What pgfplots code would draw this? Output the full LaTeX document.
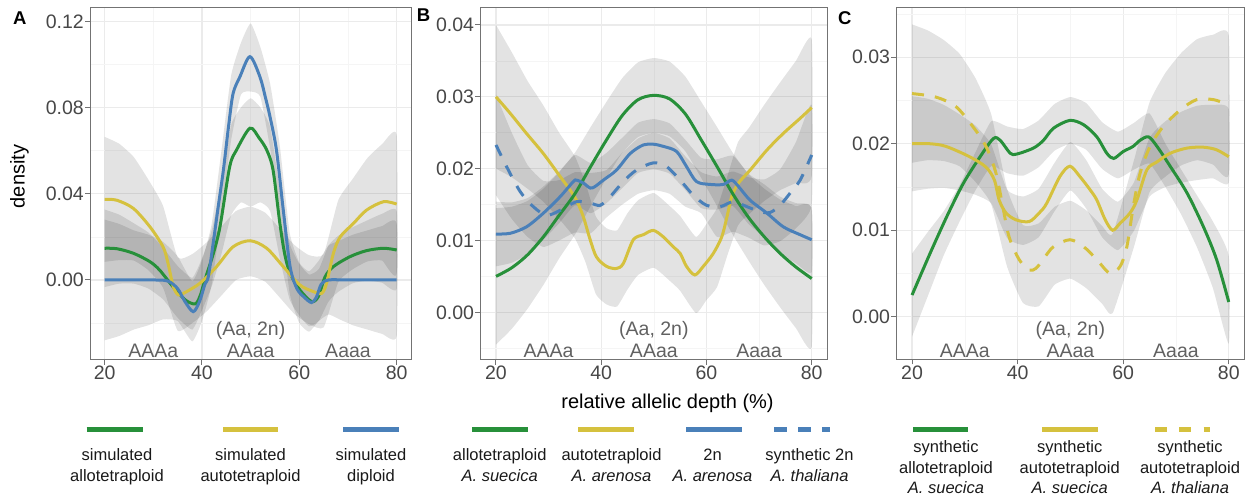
\documentclass[border=0pt]{standalone}
\usepackage{pgfplots}
\pgfplotsset{compat=1.18}
\usepackage{fontspec}
\setmainfont{Liberation Sans}

\definecolor{cgreen}{HTML}{27903A}
\definecolor{cyellow}{HTML}{D5C13E}
\definecolor{cblue}{HTML}{4A80B9}

\newcommand\tkf{\fontsize{19.5}{23}\selectfont}
\newcommand\lgd{\fontsize{16.5}{20}\selectfont}

\pgfplotsset{
  panel/.style={
    scale only axis, height=352.2pt,
    xmin=17, xmax=83,
    xtick={20,40,60,80}, minor xtick={30,50,70},
    xmajorgrids, ymajorgrids, xminorgrids, yminorgrids,
    major grid style={color=black!8, line width=1.1pt},
    minor grid style={color=black!4, line width=0.6pt},
    axis line style={draw=black!55, line width=1pt},
    tick align=outside, xtick pos=bottom, ytick pos=left,
    major tick length=5pt, minor tick length=0pt,
    tick style={draw=black!55, line width=1pt},
    tick label style={font=\tkf, text=black!72, inner sep=1pt},
    /pgf/number format/assume math mode=true,
    scaled y ticks=false,
    yticklabel style={/pgf/number format/.cd, fixed, fixed zerofill, precision=2},
  },
  % confidence band: upper bound left to right, then lower bound right to left
  rib/.style={fill=black, fill opacity=0.11, draw=none, smooth, tension=0.3},
  crv/.style={line width=3pt, smooth, tension=0.5},
}
\tikzset{
  anno/.style={font=\tkf, text=black!62, anchor=base, inner sep=0pt},
  lgt/.style={anchor=base, inner sep=0pt, font=\lgd, text=black!90},
}

% #1: baseline of genotype labels, #2: baseline of (Aa, 2n)
\newcommand\regions[2]{%
  \node[anno] at (axis cs:30,#1) {AAAa};
  \node[anno] at (axis cs:50,#1) {AAaa};
  \node[anno] at (axis cs:70,#1) {Aaaa};
  \node[anno] at (axis cs:50,#2) {(Aa, 2n)};
}

\begin{document}
\begin{tikzpicture}
\useasboundingbox (0pt,0pt) rectangle (1251pt,496pt);

% ---- A ----
\begin{axis}[panel, at={(90pt,136.5pt)}, anchor=south west, width=321.3pt,
  ymin=-0.0369, ymax=0.1265,
  ytick={0,0.04,0.08,0.12}, minor ytick={-0.02,0.02,0.06,0.10}]
\addplot[rib] coordinates {(20,.0664)(23,.0632)(26,.0570)(29,.0465)(32,.0344)(35,.0105)(38,.0120)(41,.0175)(44,.0248)(47,.0320)(50,.0340)(53,.0312)(56,.0238)(59,.0162)(62,.0115)(65,.0120)(68,.0370)(71,.0470)(74,.0566)(77,.0630)(80,.0672)
 (80,.0032)(77,.0090)(74,.0086)(71,.0050)(68,-.0010)(65,-.0220)(62,-.0205)(59,-.0158)(56,-.0082)(53,-.0008)(50,.0017)(47,0)(44,-.0072)(41,-.0145)(38,-.0200)(35,-.0235)(32,-.0036)(29,.0045)(26,.0090)(23,.0092)(20,.0084)};
\addplot[rib] coordinates {(20,.0327)(23,.0303)(26,.0263)(29,.0220)(32,.0150)(35,.0065)(38,.0010)(40,.0100)(42,.0230)(44,.0450)(46,.0720)(48,.0800)(50,.0843)(52,.0800)(54,.0710)(56,.0420)(58,.0170)(60,.0075)(62,.0025)(64,.0050)(66,.0160)(68,.0205)(71,.0245)(74,.0277)(77,.0307)(80,.0319)
 (80,-.0041)(77,-.0013)(74,-.0003)(71,-.0015)(68,-.0055)(66,-.0100)(64,-.0190)(62,-.0215)(60,-.0165)(58,-.0090)(56,.0100)(54,.0320)(52,.0360)(50,.0340)(48,.0360)(46,.0300)(44,.0120)(42,-.0030)(40,-.0140)(38,-.0230)(35,-.0175)(32,-.0090)(29,-.0040)(26,-.0017)(23,-.0017)(20,-.0033)};
\addplot[rib] coordinates {(20,.0280)(23,.0260)(26,.0230)(29,.0210)(32,.0177)(35,.0110)(38,-.0005)(40,.0090)(42,.0260)(44,.0600)(46,.0950)(48,.1100)(50,.1190)(52,.1080)(54,.0910)(56,.0620)(58,.0220)(60,.0080)(62,.0040)(64,.0090)(66,.0160)(68,.0180)(71,.0210)(74,.0230)(77,.0250)(80,.0260)
 (80,-.0260)(77,-.0250)(74,-.0230)(71,-.0210)(68,-.0180)(66,-.0160)(64,-.0190)(62,-.0240)(60,-.0200)(58,-.0060)(56,.0320)(54,.0610)(52,.0850)(50,.0874)(48,.0860)(46,.0650)(44,.0300)(42,-.0020)(40,-.0190)(38,-.0285)(35,-.0190)(32,-.0183)(29,-.0210)(26,-.0230)(23,-.0260)(20,-.0280)};
\addplot[crv, cgreen] coordinates {(20,0.0147)(22.5,0.0145)(25.9,0.0124)(29.3,0.0085)(31.3,0.0046)(34,-0.003)(36.6,-0.0093)(38.6,-0.0111)(39.6,-0.0075)(40.6,0)(42.3,0.012)(43.7,0.0247)(45.7,0.0526)(47.1,0.0603)(49.85,0.0704)(51.7,0.066)(53.3,0.0603)(54.6,0.051)(56,0.0263)(57,0.012)(58.1,0.0031)(60.1,-0.0046)(62.5,-0.010)(63.9,-0.0077)(65.3,0.0015)(67,0.0062)(70.4,0.0108)(73.8,0.0136)(77.3,0.0147)(80,0.0139)};
\addplot[crv, cyellow] coordinates {(20,0.0374)(22.5,0.0370)(25.9,0.0332)(29.3,0.0247)(32,0.0154)(33,0.008)(34.1,-0.003)(35.1,-0.0069)(36.2,-0.0062)(39.6,-0.0015)(43,0.0062)(46.4,0.0154)(49.9,0.0182)(53.3,0.0147)(56.7,0.0062)(60.1,-0.0023)(62.9,-0.0054)(64.6,-0.0062)(65.6,-0.0015)(67,0.0124)(68.4,0.020)(71.1,0.0262)(73.8,0.0324)(77.3,0.0363)(80,0.0352)};
\addplot[crv, cblue] coordinates {(20,0)(30,0)(33,-0.0005)(35,-0.004)(36.5,-0.01)(38.2,-0.0147)(39.5,-0.01)(40.6,-0.002)(41.3,0.0015)(42.3,0.017)(43.4,0.035)(44.4,0.051)(45.5,0.072)(46.4,0.0866)(47.8,0.0943)(49.85,0.1036)(51.9,0.0943)(53,0.085)(53.97,0.0758)(55.3,0.0603)(56.7,0.0325)(58.1,0.0062)(59.5,-0.004)(61,-0.008)(62.5,-0.0105)(63.5,-0.008)(64.5,-0.002)(66,0)(70,0)(80,0)};
\regions{-0.0358}{-0.0256}
\end{axis}

% ---- B ----
\begin{axis}[panel, at={(480.2pt,136.5pt)}, anchor=south west, width=347.3pt,
  ymin=-0.00657, ymax=0.04246,
  ytick={0,0.01,0.02,0.03,0.04}, minor ytick={-0.005,0.005,0.015,0.025,0.035}]
\addplot[rib] coordinates {(20,.0400)(23,.0362)(26,.0322)(29,.0288)(32,.0250)(35,.0217)(37,.0180)(39,.0133)(41,.0117)(43,.0114)(45,.0138)(47,.0156)(50,.0166)(53,.0148)(55,.0134)(58,.0105)(60,.0123)(62,.0145)(64,.0190)(66,.0237)(68,.0256)(71,.0289)(74,.0320)(77,.0350)(80,.0380)
 (80,.0190)(77,.0180)(74,.0170)(71,.0155)(68,.0136)(66,.0121)(64,.0080)(62,.0035)(60,.0017)(58,-.0001)(55,.0030)(53,.0044)(50,.0062)(47,.0052)(45,.0032)(43,.0008)(41,.0011)(39,.0025)(37,.0070)(35,.0103)(32,.0130)(29,.0154)(26,.0172)(23,.0188)(20,.0200)};
\addplot[rib] coordinates {(20,.0145)(23,.0147)(26,.0155)(29,.0172)(32,.0195)(35,.0222)(38,.0258)(41,.0293)(44,.0326)(47,.0348)(50,.0354)(53,.0349)(56,.0328)(59,.0293)(62,.0258)(65,.0222)(68,.0192)(71,.0172)(74,.0157)(77,.0148)(80,.0142)
 (80,-.0048)(77,-.0022)(74,.0007)(71,.0038)(68,.0072)(65,.0108)(62,.0148)(59,.0187)(56,.0224)(53,.0245)(50,.0250)(47,.0244)(44,.0222)(41,.0187)(38,.0148)(35,.0108)(32,.0075)(29,.0038)(26,.0005)(23,-.0023)(20,-.0045)};
\addplot[rib] coordinates {(20,.0154)(23,.0153)(26,.0159)(29,.0175)(32,.0196)(35,.0219)(38,.0208)(41,.0222)(44,.0243)(47,.0264)(50,.0269)(53,.0263)(56,.0240)(59,.0215)(62,.0213)(65,.0218)(68,.0193)(71,.0178)(74,.0161)(77,.0152)(80,.0146)
 (80,.0056)(77,.0068)(74,.0083)(71,.0104)(68,.0123)(65,.0148)(62,.0143)(59,.0145)(56,.0170)(53,.0193)(50,.0199)(47,.0194)(44,.0173)(41,.0152)(38,.0138)(35,.0149)(32,.0124)(29,.0101)(26,.0081)(23,.0069)(20,.0064)};
\addplot[rib] coordinates {(20,.0303)(23,.0250)(26,.0205)(29,.0183)(32,.0184)(35,.0195)(38,.0194)(41,.0198)(44,.0222)(47,.0242)(50,.0250)(53,.0242)(56,.0217)(59,.0195)(62,.0189)(65,.0196)(68,.0188)(71,.0185)(74,.0199)(77,.0237)(80,.0289)
 (80,.0149)(77,.0117)(74,.0099)(71,.0093)(68,.0104)(65,.0112)(62,.0105)(59,.0138)(56,.0147)(53,.0165)(50,.0170)(47,.0165)(44,.0150)(41,.0132)(38,.0110)(35,.0111)(32,.0100)(29,.0091)(26,.0105)(23,.0130)(20,.0163)};
\addplot[crv, cyellow] coordinates {(20,0.0300)(22.7,0.0277)(25.8,0.0249)(29,0.0221)(32.2,0.0189)(34.1,0.0170)(35.3,0.0156)(36.6,0.0133)(37.9,0.0101)(39.1,0.0077)(41,0.0064)(42.9,0.0061)(44.2,0.0068)(46.1,0.0101)(48,0.0108)(49.9,0.0114)(51.8,0.0105)(53.7,0.0091)(55,0.0082)(56.2,0.0064)(57.8,0.0052)(59.4,0.0064)(61.3,0.0082)(62.9,0.0105)(63.9,0.0133)(64.8,0.0161)(66.1,0.0180)(68.3,0.0198)(71.5,0.0226)(74.6,0.0249)(77.8,0.0270)(80,0.0285)};
\addplot[crv, cgreen] coordinates {(20,0.0050)(23,0.0062)(26,0.0080)(29,0.0105)(32,0.0135)(35,0.0165)(38,0.0203)(41,0.0240)(44,0.0274)(47,0.0296)(50,0.0302)(53,0.0297)(56,0.0276)(59,0.0240)(62,0.0203)(65,0.0165)(68,0.0132)(71,0.0105)(74,0.0082)(77,0.0063)(80,0.0047)};
\addplot[crv, cblue] coordinates {(20,0.0109)(22.7,0.0110)(25.8,0.0119)(29,0.0138)(32.2,0.0161)(34.7,0.0182)(35.3,0.0184)(36.6,0.0180)(37.9,0.0173)(38.8,0.0175)(40.4,0.0184)(42.9,0.0198)(45.5,0.0221)(48,0.0233)(49.9,0.0234)(51.8,0.0231)(54.3,0.0224)(56.2,0.0203)(58.1,0.0182)(60.7,0.0178)(63.2,0.0178)(64.8,0.0184)(66.1,0.0175)(68.3,0.0156)(71.5,0.0138)(74.6,0.0119)(77.8,0.0108)(80,0.0101)};
\addplot[crv, cblue, dash pattern=on 12pt off 11pt] coordinates {(20,0.0233)(22,0.0203)(24.6,0.0168)(27.1,0.0147)(29.6,0.0135)(32.2,0.0142)(35.3,0.0154)(37.9,0.0152)(39.8,0.0149)(41.7,0.0161)(44.2,0.0182)(46.7,0.0198)(49.9,0.0208)(52.4,0.0203)(55,0.0184)(57.5,0.0163)(60,0.0149)(62.6,0.0147)(65.1,0.0154)(67.7,0.0147)(70.2,0.0140)(72.1,0.0139)(74,0.0149)(75.9,0.0166)(77.8,0.0184)(80,0.0219)};
\regions{-0.00623}{-0.00319}
\end{axis}

% ---- C ----
\begin{axis}[panel, at={(896.2pt,136.5pt)}, anchor=south west, width=348.4pt,
  ymin=-0.00495, ymax=0.03578,
  ytick={0,0.01,0.02,0.03}, minor ytick={-0.005,0.005,0.015,0.025,0.035}]
\addplot[rib] coordinates {(20,.0073)(23,.0098)(26,.0122)(29,.0152)(32,.0190)(35,.0226)(38,.0220)(41,.0217)(44,.0227)(47,.0246)(50,.0254)(53,.0247)(56,.0225)(59,.0214)(62,.0224)(65,.0235)(68,.0200)(71,.0170)(74,.0140)(77,.0110)(80,.0070)
 (80,-.0031)(77,.0033)(74,.0080)(71,.0118)(68,.0150)(65,.0177)(62,.0170)(59,.0160)(56,.0171)(53,.0193)(50,.0200)(47,.0192)(44,.0173)(41,.0163)(38,.0166)(35,.0174)(32,.0146)(29,.0110)(26,.0071)(23,.0024)(20,-.0023)};
\addplot[rib] coordinates {(20,.0255)(23,.0252)(26,.0245)(29,.0234)(32,.0221)(35,.0199)(38,.0147)(41,.0139)(44,.0148)(47,.0178)(50,.0202)(53,.0181)(56,.0148)(59,.0133)(62,.0155)(65,.0207)(68,.0226)(71,.0237)(74,.0244)(77,.0245)(80,.0240)
 (80,.0155)(77,.0160)(74,.0158)(71,.0155)(68,.0150)(65,.0139)(62,.0099)(59,.0077)(56,.0092)(53,.0125)(50,.0146)(47,.0122)(44,.0092)(41,.0083)(38,.0091)(35,.0131)(32,.0141)(29,.0146)(26,.0149)(23,.0148)(20,.0145)};
\addplot[rib] coordinates {(20,.0338)(23,.0331)(26,.0320)(29,.0304)(32,.0276)(35,.0234)(38,.0148)(41,.0106)(44,.0108)(47,.0127)(50,.0134)(53,.0123)(56,.0105)(58,.0096)(62,.0180)(65,.0248)(68,.0282)(71,.0305)(74,.0321)(77,.0326)(80,.0325)
 (80,.0165)(77,.0176)(74,.0181)(71,.0175)(68,.0162)(65,.0144)(62,.0080)(58,.0004)(56,.0015)(53,.0033)(50,.0044)(47,.0037)(44,.0012)(41,.0016)(38,.0058)(35,.0130)(32,.0156)(29,.0174)(26,.0180)(23,.0181)(20,.0178)};
\addplot[crv, cgreen] coordinates {(20,0.0025)(23.4,0.0073)(26.6,0.0116)(29.7,0.0154)(32.9,0.0185)(35.4,0.0206)(36.7,0.0204)(38.6,0.0189)(39.8,0.0188)(43,0.0195)(44.9,0.0204)(46.8,0.0218)(49.9,0.0227)(52.5,0.0222)(55,0.0208)(56.9,0.0189)(58.2,0.0183)(60,0.0191)(61.9,0.0197)(63.2,0.0204)(64.8,0.0208)(66.4,0.0197)(68.9,0.0174)(72.1,0.0143)(75.2,0.0104)(77.7,0.0066)(80,0.0017)};
\addplot[crv, cyellow] coordinates {(20,0.0200)(23.4,0.0200)(26.4,0.0197)(30.9,0.0185)(34,0.0173)(35.6,0.0158)(36.5,0.0135)(37.8,0.0120)(39.7,0.0112)(42.2,0.0110)(44.1,0.0120)(45.5,0.0131)(48,0.0162)(49.9,0.0174)(51.8,0.0162)(53.7,0.0147)(55,0.0135)(56.6,0.0112)(58,0.0100)(59.4,0.0108)(61.3,0.0120)(62.6,0.0135)(64.5,0.0170)(66.4,0.0179)(68.9,0.0189)(72.1,0.0195)(75.2,0.0196)(77.7,0.0193)(80,0.0185)};
\addplot[crv, cyellow, dash pattern=on 12pt off 11pt] coordinates {(20,0.0258)(24.5,0.0254)(28.3,0.0243)(31.5,0.0220)(34,0.0197)(35.9,0.0166)(37.2,0.0127)(38.4,0.0092)(40.3,0.0066)(42.2,0.0054)(43.5,0.0056)(44.8,0.0066)(46.8,0.0081)(49.9,0.0089)(52.5,0.0081)(55,0.0066)(57.5,0.0050)(59.4,0.0058)(60.7,0.0081)(61.9,0.0127)(63.2,0.0166)(65.1,0.0197)(67.6,0.0220)(70.8,0.0239)(73.9,0.0251)(77.1,0.0251)(80,0.0245)};
\regions{-0.00467}{-0.00214}
\end{axis}

% panel letters and axis titles
\node[anchor=base west, inner sep=0pt, font=\fontsize{18.5}{20}\selectfont\bfseries] at (13pt,471pt) {A};
\node[anchor=base west, inner sep=0pt, font=\fontsize{18.5}{20}\selectfont\bfseries] at (416.7pt,474.3pt) {B};
\node[anchor=base west, inner sep=0pt, font=\fontsize{18.5}{20}\selectfont\bfseries] at (838pt,471pt) {C};
\node[rotate=90, inner sep=0pt, font=\fontsize{20}{22}\selectfont] at (19.5pt,319.5pt) {density};
\node[anchor=base, inner sep=0pt, font=\fontsize{20}{22}\selectfont] at (667.5pt,88pt) {relative allelic depth (\%)};

% legend keys
\begin{scope}[line width=5pt]
\draw[cgreen] (86.7pt,67pt) -- (142.7pt,67pt);
\draw[cyellow] (223.3pt,67pt) -- (278.3pt,67pt);
\draw[cblue] (343.3pt,67pt) -- (399.3pt,67pt);
\draw[cgreen] (472.3pt,67pt) -- (528.3pt,67pt);
\draw[cyellow] (578.3pt,67pt) -- (634pt,67pt);
\draw[cblue] (686pt,67pt) -- (741.7pt,67pt);
\draw[cblue, dash pattern=on 12.4pt off 11.6pt] (774.3pt,67pt) -- (830pt,67pt);
\draw[cgreen] (913.3pt,67pt) -- (968.3pt,67pt);
\draw[cyellow] (1042.3pt,67pt) -- (1098.3pt,67pt);
\draw[cyellow, dash pattern=on 11.7pt off 12.6pt] (1155pt,67pt) -- (1210pt,67pt);
\end{scope}

% legend labels
\node[lgt] at (117pt,36pt) {simulated};
\node[lgt] at (117pt,15pt) {allotetraploid};
\node[lgt] at (250.5pt,36pt) {simulated};
\node[lgt] at (250.5pt,15pt) {autotetraploid};
\node[lgt] at (371pt,36pt) {simulated};
\node[lgt] at (371pt,15pt) {diploid};
\node[lgt] at (499.7pt,36pt) {allotetraploid};
\node[lgt] at (499.7pt,15pt) {\itshape A. suecica};
\node[lgt] at (611.5pt,36pt) {autotetraploid};
\node[lgt] at (611.5pt,15pt) {\itshape A. arenosa};
\node[lgt] at (712.5pt,36pt) {2n};
\node[lgt] at (712.5pt,15pt) {\itshape A. arenosa};
\node[lgt] at (809.5pt,36pt) {synthetic 2n};
\node[lgt] at (809.5pt,15pt) {\itshape A. thaliana};
\node[lgt] at (946pt,43.3pt) {synthetic};
\node[lgt] at (946pt,22.3pt) {allotetraploid};
\node[lgt] at (946pt,2.7pt) {\itshape A. suecica};
\node[lgt] at (1069.7pt,43.3pt) {synthetic};
\node[lgt] at (1069.7pt,22.3pt) {autotetraploid};
\node[lgt] at (1069.7pt,2.7pt) {\itshape A. suecica};
\node[lgt] at (1190pt,43.3pt) {synthetic};
\node[lgt] at (1190pt,22.3pt) {autotetraploid};
\node[lgt] at (1190pt,2.7pt) {\itshape A. thaliana};
\end{tikzpicture}
\end{document}
